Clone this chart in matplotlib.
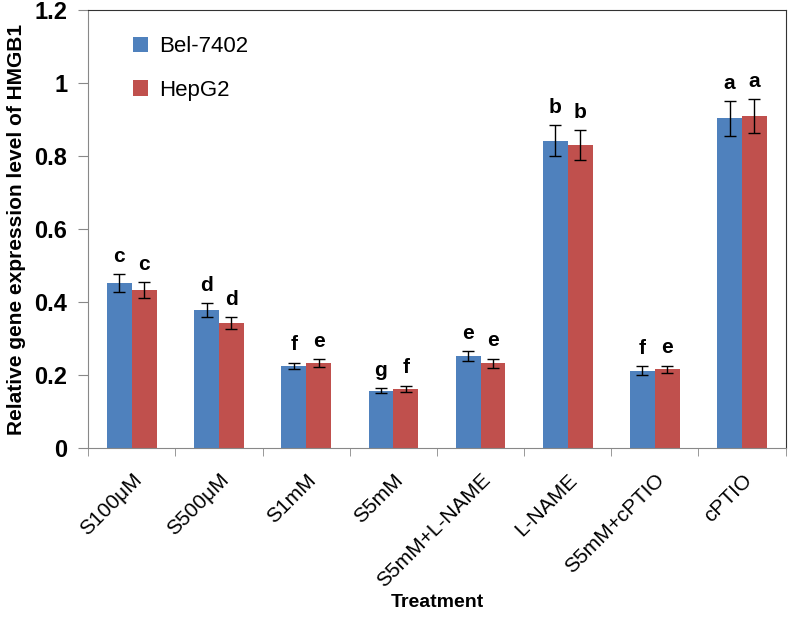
import numpy as np
import matplotlib.pyplot as plt

plt.rcParams['font.family'] = ['Liberation Sans', 'DejaVu Sans']

treatments = ['S100μM', 'S500μM', 'S1mM', 'S5mM', 'S5mM+L-NAME', 'L-NAME', 'S5mM+cPTIO', 'cPTIO']
bel = [0.452, 0.378, 0.225, 0.157, 0.253, 0.842, 0.212, 0.903]
bel_err = [0.025, 0.019, 0.009, 0.007, 0.013, 0.043, 0.012, 0.047]
hep = [0.433, 0.342, 0.233, 0.163, 0.232, 0.830, 0.216, 0.910]
hep_err = [0.022, 0.017, 0.011, 0.008, 0.013, 0.040, 0.010, 0.046]
bel_letters = ['c', 'd', 'f', 'g', 'e', 'b', 'f', 'a']
hep_letters = ['c', 'd', 'e', 'f', 'e', 'b', 'e', 'a']

fig = plt.figure(figsize=(7.88, 6.19), dpi=100)
ax = fig.add_axes([0.112, 0.276, 0.885, 0.708])

x = np.arange(len(treatments))
w = 0.285
ax.bar(x - w/2, bel, w, yerr=bel_err, color='#4F81BD', label='Bel-7402',
       error_kw=dict(ecolor='black', capsize=4, elinewidth=1, capthick=1))
ax.bar(x + w/2, hep, w, yerr=hep_err, color='#C0504D', label='HepG2',
       error_kw=dict(ecolor='black', capsize=4, elinewidth=1, capthick=1))

for i in range(len(treatments)):
    ax.annotate(bel_letters[i], (x[i] - w/2, bel[i] + bel_err[i]), xytext=(0, 6),
                textcoords='offset points', ha='center', va='bottom',
                fontsize=15, fontweight='bold')
    ax.annotate(hep_letters[i], (x[i] + w/2, hep[i] + hep_err[i]), xytext=(0, 6),
                textcoords='offset points', ha='center', va='bottom',
                fontsize=15, fontweight='bold')

ax.set_xlim(-0.5, len(treatments) - 0.5)
ax.set_ylim(0, 1.2)
ax.set_yticks([0, 0.2, 0.4, 0.6, 0.8, 1.0, 1.2])
ax.set_yticklabels(['0', '0.2', '0.4', '0.6', '0.8', '1', '1.2'], fontsize=17, fontweight='bold')
ax.tick_params(axis='y', length=7, color='#888888', pad=8)

ax.set_xticks(x)
ax.set_xticklabels(treatments, rotation=45, ha='right', rotation_mode='anchor', fontsize=15)
ax.tick_params(axis='x', which='major', length=0, pad=16)
ax.set_xticks(np.arange(-0.5, len(treatments)), minor=True)
ax.tick_params(axis='x', which='minor', length=6, color='#888888')

for s in ['left', 'bottom']:
    ax.spines[s].set_color('#888888')
for s in ['top', 'right']:
    ax.spines[s].set_color('#333333')

ax.set_xlabel('Treatment', fontsize=14, fontweight='bold', labelpad=2)
ax.set_ylabel('Relative gene expression level of HMGB1', fontsize=15, fontweight='bold', labelpad=6)

ax.legend(loc='upper left', bbox_to_anchor=(0.035, 0.985), frameon=False, fontsize=16,
          handlelength=0.7, handleheight=0.7, labelspacing=1.0, handletextpad=0.5)

fig.savefig('out.png', dpi=100)
